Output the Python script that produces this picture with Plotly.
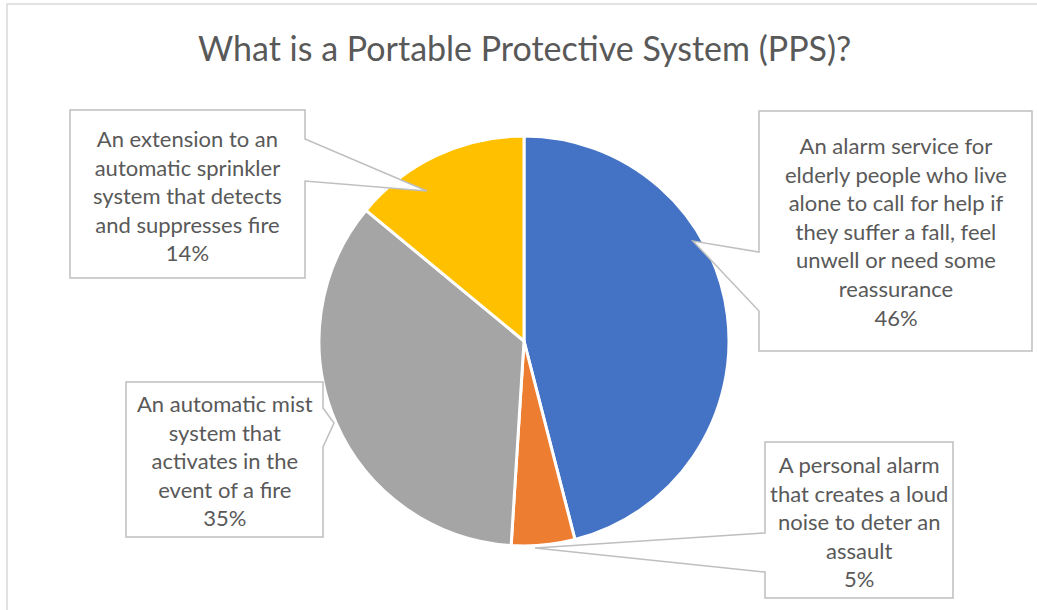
import plotly.graph_objects as go

# ---- data ----
categories = [
    "An alarm service for<br>elderly people who live<br>alone to call for help if<br>they suffer a fall, feel<br>unwell or need some<br>reassurance",
    "A personal alarm<br>that creates a loud<br>noise to deter an<br>assault",
    "An automatic mist<br>system that<br>activates in the<br>event of a fire",
    "An extension to an<br>automatic sprinkler<br>system that detects<br>and suppresses fire",
]
values = [46, 5, 35, 14]
colors = ["#4472C4", "#ED7D31", "#A5A5A5", "#FFC000"]
title_text = "What is a Portable Protective System (PPS)?"

W, H = 1037, 610
def px(x):
    return x / W
def py(y):
    return 1 - y / H

# label box layout (pixels): box l, t, r, b, wedge side, wedge start, wedge end, tip
boxes = [
    dict(l=759, t=111, r=1032, b=351, side="left", w0=252, w1=311, tip=(693, 241)),
    dict(l=765, t=442, r=953, b=598, side="left", w0=533, w1=572, tip=(535, 548)),
    dict(l=126, t=382, r=323, b=537, side="right", w0=408, w1=447, tip=(334, 423)),
    dict(l=70, t=110, r=305, b=278, side="right", w0=139, w1=181, tip=(427, 191)),
]

cx, cy, R = 524, 341, 205

fig = go.Figure()
fig.add_trace(go.Pie(
    labels=[c.replace("<br>", " ") for c in categories],
    values=values,
    sort=False,
    direction="clockwise",
    rotation=0,
    marker=dict(colors=colors, line=dict(color="white", width=3)),
    textinfo="none",
    hoverinfo="label+percent",
    showlegend=False,
    domain=dict(x=[px(cx - R), px(cx + R)], y=[py(cy + R), py(cy - R)]),
))

shapes = []
# chart area border
shapes.append(dict(type="rect", xref="paper", yref="paper",
                   x0=px(7), x1=px(1045), y0=py(4), y1=py(620),
                   line=dict(color="#D9D9D9", width=1.5), fillcolor="rgba(0,0,0,0)", layer="below"))

annotations = []
total = sum(values)
for cat, val, b in zip(categories, values, boxes):
    l, t, r, bt = b["l"], b["t"], b["r"], b["b"]
    tx, ty = b["tip"]
    if b["side"] == "right":
        pts = [(l, t), (r, t), (r, b["w0"]), (tx, ty), (r, b["w1"]), (r, bt), (l, bt)]
    else:
        pts = [(l, t), (r, t), (r, bt), (l, bt), (l, b["w1"]), (tx, ty), (l, b["w0"])]
    path = "M " + " L ".join(f"{px(x):.5f},{py(y):.5f}" for x, y in pts) + " Z"
    shapes.append(dict(type="path", xref="paper", yref="paper", path=path,
                       line=dict(color="#BFBFBF", width=1.5), fillcolor="white"))
    pct = round(val / total * 100)
    annotations.append(dict(
        x=px((l + r) / 2), y=py((t + bt) / 2 + 1), xref="paper", yref="paper",
        xanchor="center", yanchor="middle", showarrow=False, align="center",
        text=f"{cat}<br>{pct}%",
        font=dict(family="Lato", size=22, color="#595959"),
    ))

annotations.append(dict(
    x=px(524), y=py(47), xref="paper", yref="paper", xanchor="center", yanchor="middle",
    showarrow=False, text=title_text,
    font=dict(family="Lato", size=34, color="#595959"),
))

fig.update_layout(
    width=W, height=H,
    margin=dict(l=0, r=0, t=0, b=0),
    paper_bgcolor="white", plot_bgcolor="white",
    shapes=shapes, annotations=annotations,
)

fig.write_html("out.html")
